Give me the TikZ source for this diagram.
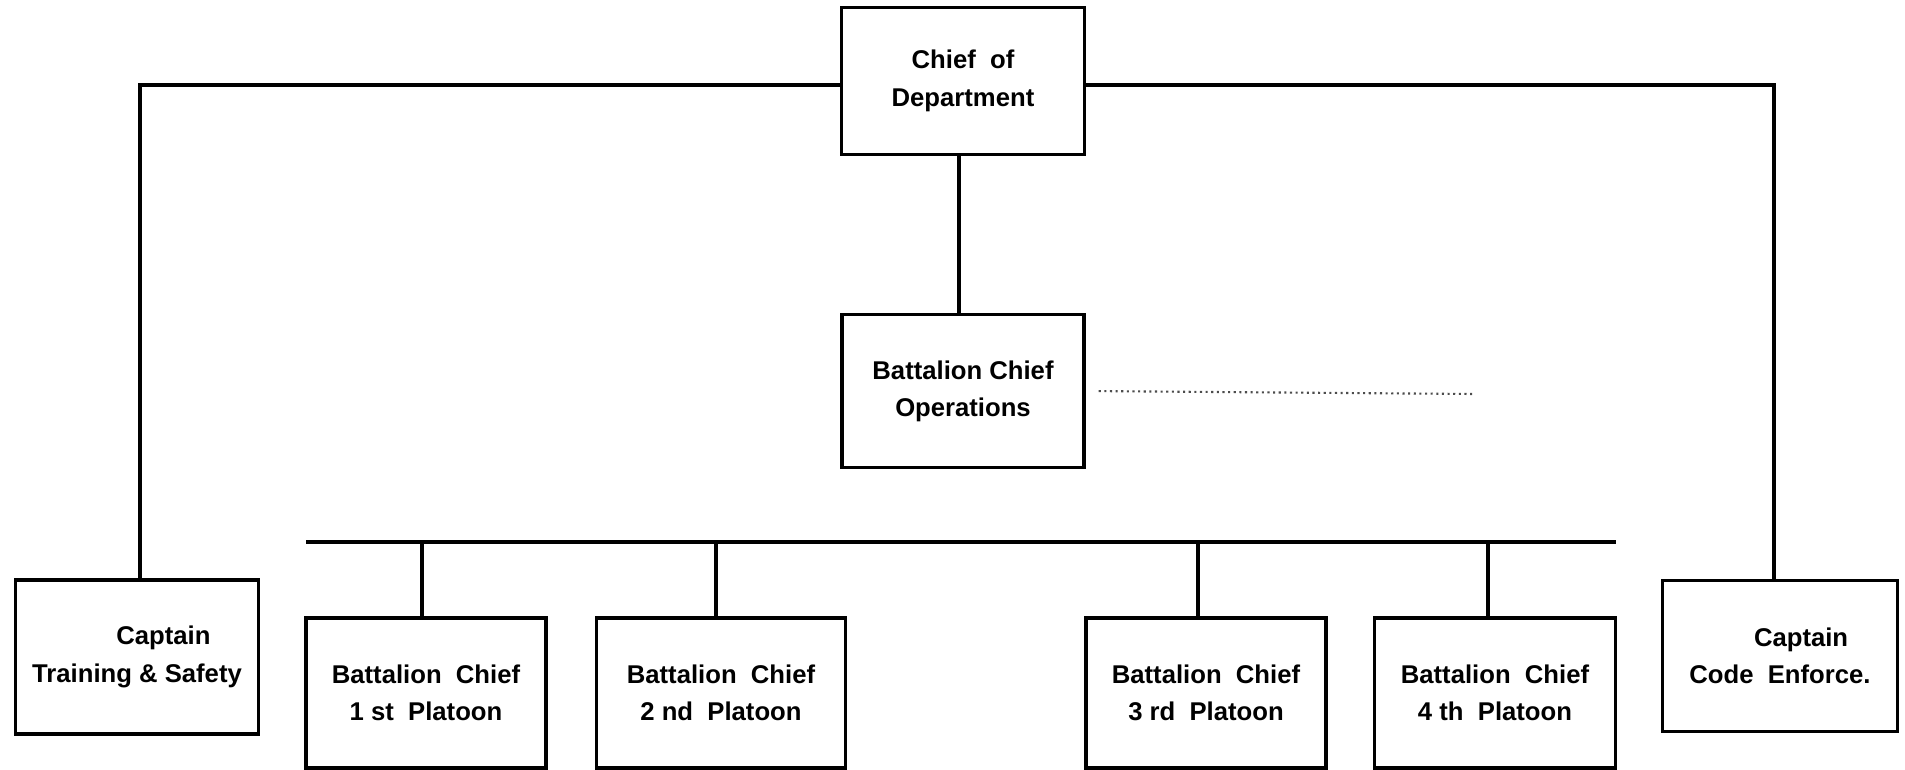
\documentclass[tikz,border=0pt]{standalone}
\usepackage{fontspec}
\setmainfont{Liberation Sans}
\usepackage{tikz}
\usetikzlibrary{calc}

\begin{document}
\begin{tikzpicture}[x=0.01cm, y=-0.01cm,
    post/.style={draw, line width=0.9pt, rectangle, inner sep=0pt, align=center,
      font=\bfseries\fontsize{7.3}{10.6}\selectfont},
    wire/.style={line width=0.9pt},
    faint/.style={densely dotted, line width=0.6pt, black!70}]
  \useasboundingbox (0,0) rectangle (1905,770);

  % Top of the chart
  \node[post, minimum width=2.43cm, minimum height=1.47cm] (chief) at (963,81) {Chief\ \ of\\Department};
  \node[post, minimum width=2.42cm, minimum height=1.53cm] (ops) at (963,391) {Battalion Chief\\Operations};

  % Staff captains at the sides
  \node[post, minimum width=2.43cm, minimum height=1.54cm] (train) at (137,657) {\hspace*{15pt}Captain\\Training \& Safety};
  \node[post, minimum width=2.35cm, minimum height=1.51cm] (code) at (1780,656) {\hspace*{12pt}Captain\\Code\ \ Enforce.};

  % Platoon chiefs along the bus
  \node[post, minimum width=2.40cm, minimum height=1.50cm] (p1) at (426,693) {Battalion\ \ Chief\\1 st\ \ Platoon};
  \node[post, minimum width=2.49cm, minimum height=1.50cm] (p2) at (721,693) {Battalion\ \ Chief\\2 nd\ \ Platoon};
  \node[post, minimum width=2.40cm, minimum height=1.50cm] (p3) at (1206,693) {Battalion\ \ Chief\\3 rd\ \ Platoon};
  \node[post, minimum width=2.41cm, minimum height=1.50cm] (p4) at (1495,693) {Battalion\ \ Chief\\4 th\ \ Platoon};

  % Lines
  \draw[wire] ([yshift=-0.04cm]chief.west) -| ([xshift=0.03cm]train.north);
  \draw[wire] ([yshift=-0.04cm]chief.east) -| ([xshift=-0.06cm]code.north);
  \draw[wire] ([xshift=-0.04cm]chief.south) -- ([xshift=-0.04cm]ops.north);

  \coordinate (busL) at (306,542);
  \coordinate (busR) at (1616,542);
  \draw[wire] (busL) -- (busR);
  \foreach \p/\dx in {p1/-0.04, p2/-0.05, p3/-0.08, p4/-0.07}
    \draw[wire] ([xshift=\dx cm]\p.north) -- ([xshift=\dx cm]\p.north |- busL);

  % faint dotted trace right of operations
  \coordinate (opsend) at (1473,394);
  \draw[faint, shorten <=3.7pt] (ops.east) -- (opsend);

\end{tikzpicture}
\end{document}
